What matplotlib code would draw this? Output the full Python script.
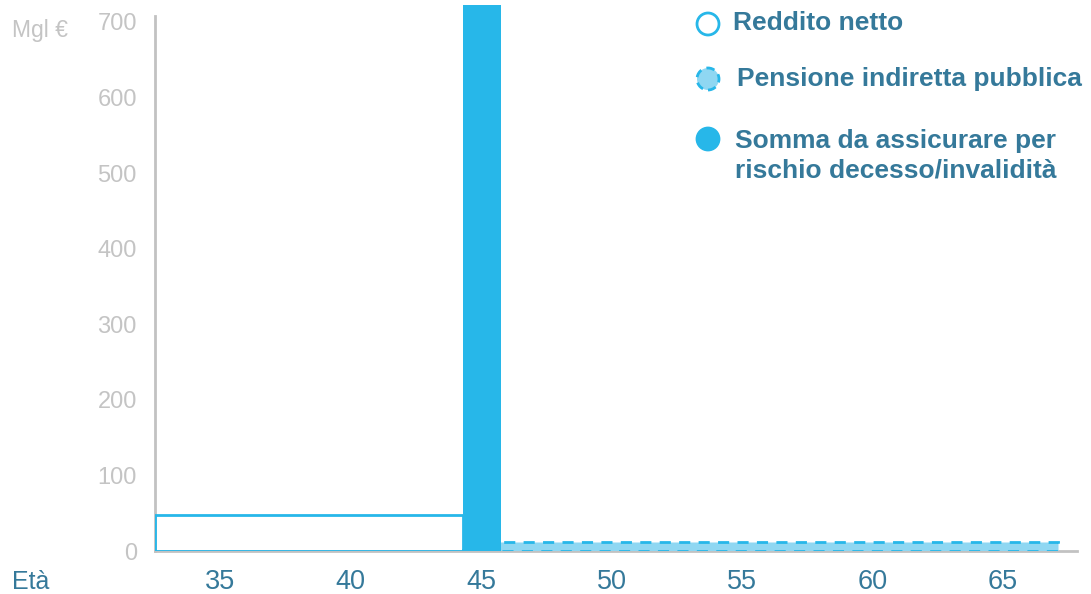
import matplotlib.pyplot as plt
import matplotlib.patches as mpatches

plt.rcParams["font.family"] = ["Liberation Sans", "DejaVu Sans"]

# data (age in years, amounts in thousands of euro)
reddito_eta = [32.5, 44.3]
reddito_val = 48
pensione_eta = [44.3, 67.1]
pensione_val = 12
somma_eta = [44.3, 45.75]
somma_val = 722

x_ticks = [35, 40, 45, 50, 55, 60, 65]
y_ticks = [0, 100, 200, 300, 400, 500, 600, 700]

legend_labels = [
    "Reddito netto",
    "Pensione indiretta pubblica",
    "Somma da assicurare per\nrischio decesso/invalidità",
]

blue = "#27b7e9"
light_blue = "#8fd7f2"
teal = "#35799a"
grey_txt = "#c4c4c4"
grey_axis = "#c2c2c2"

W, H = 1091, 594
fig = plt.figure(figsize=(W / 100, H / 100), dpi=100)
ax = fig.add_axes([155 / W, 1 - 551 / H, (1077 - 155) / W, (551 - 3) / H])

# reddito netto: outline only
ax.bar(reddito_eta[0], reddito_val, width=reddito_eta[1] - reddito_eta[0],
       align="edge", facecolor="none", edgecolor=blue, linewidth=2, zorder=4)
# pensione indiretta: light fill, dashed edge
ax.bar(pensione_eta[0], pensione_val, width=pensione_eta[1] - pensione_eta[0],
       align="edge", facecolor=light_blue, edgecolor=blue, linewidth=2,
       linestyle=(0, (4, 3)), zorder=3)
# somma da assicurare
ax.bar(somma_eta[0], somma_val, width=somma_eta[1] - somma_eta[0],
       align="edge", color=blue, linewidth=0, zorder=5, clip_on=False)

ax.set_xlim(32.5, 67.83)
ax.set_ylim(0, 725)
ax.set_xticks(x_ticks)
ax.set_yticks(y_ticks)
ax.tick_params(axis="both", length=0)
ax.tick_params(axis="x", pad=13, labelsize=19.5, labelcolor=teal)
ax.tick_params(axis="y", pad=13, labelsize=17, labelcolor=grey_txt)

for s in ["top", "right"]:
    ax.spines[s].set_visible(False)
ax.spines["left"].set_color(grey_axis)
ax.spines["bottom"].set_color(grey_axis)
ax.spines["left"].set_linewidth(2)
ax.spines["bottom"].set_linewidth(2)
ax.spines["left"].set_bounds(0, 708)

fig.text(40 / W, 1 - 31 / H, "Mgl €", color=grey_txt, fontsize=16.5,
         ha="center", va="center")
fig.text(31 / W, 1 - 582 / H, "Età", color=teal, fontsize=18,
         ha="center", va="center")

# legend drawn by hand
r = 11
marker_y = [24, 79, 139]
text_y = [23, 79, 156]
text_x = [733, 737, 735]
styles = [
    dict(facecolor="white", edgecolor=blue, linestyle="-"),
    dict(facecolor=light_blue, edgecolor=blue, linestyle=(0, (3, 2))),
    dict(facecolor=blue, edgecolor=blue, linestyle="-"),
]
for lab, my, ty, tx, st in zip(legend_labels, marker_y, text_y, text_x, styles):
    e = mpatches.Ellipse((708 / W, 1 - my / H), 2 * r / W, 2 * r / H,
                         transform=fig.transFigure, linewidth=2, **st)
    fig.add_artist(e)
    fig.text(tx / W, 1 - ty / H, lab, color=teal, fontsize=19,
             fontweight="bold", ha="left", va="center", linespacing=1.3)

fig.savefig("out.png", dpi=100)
